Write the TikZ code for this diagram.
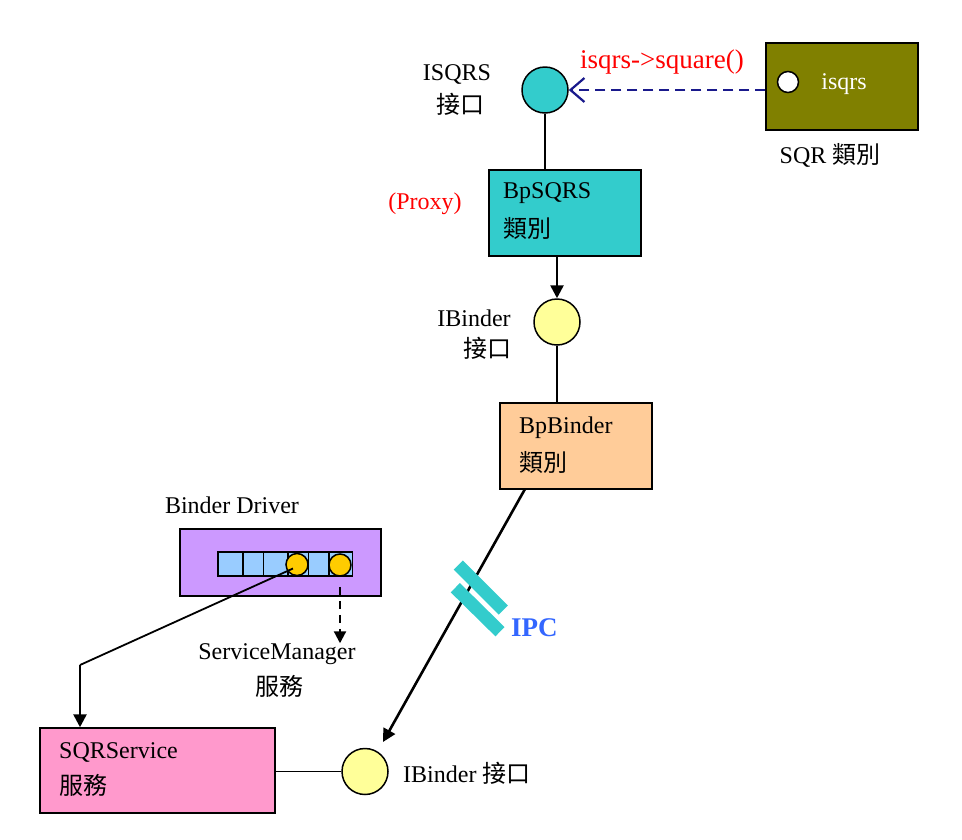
\documentclass[tikz,border=0pt]{standalone}
\usepackage{fontspec}
\setmainfont{Liberation Serif}
\newfontfamily\cjk{Noto Sans CJK TC}
\usetikzlibrary{arrows.meta}
\definecolor{tealc}{HTML}{33CCCC}
\definecolor{olivec}{HTML}{808000}
\definecolor{yellowc}{HTML}{FFFF99}
\definecolor{peachc}{HTML}{FFCC99}
\definecolor{purplec}{HTML}{CC99FF}
\definecolor{cellc}{HTML}{99CCFF}
\definecolor{goldc}{HTML}{FFCC00}
\definecolor{pinkc}{HTML}{FF99CC}
\definecolor{ipcc}{HTML}{3366FF}
\definecolor{navyc}{HTML}{1A1A8C}
\begin{document}
\begin{tikzpicture}[x=1pt,y=-1pt,
  font=\fontsize{24}{28}\selectfont,
  box/.style={draw,line width=1.5pt,inner sep=0pt},
  iface/.style={draw,circle,line width=1.5pt,minimum size=46pt,inner sep=0pt},
  dot/.style={draw,circle,line width=1.5pt,minimum size=22pt,inner sep=0pt,fill=goldc},
  lbl/.style={inner sep=0pt},
  conn/.style={line width=1.5pt},
  arr/.style={line width=2.6pt,-{Triangle[length=13pt,width=13pt]}},
  ipcbar/.style={line width=13pt,tealc}]
\useasboundingbox (0,0) rectangle (962,839);

% nodes
\node[iface,fill=tealc] (isqrs) at (545,90) {};
\node[box,fill=olivec,minimum width=152pt,minimum height=87pt] (sqr) at (842,86.5) {};
\node[draw,circle,line width=1.5pt,fill=white,minimum size=21pt,inner sep=0pt] (sqrdot) at (788,82) {};
\node[box,fill=tealc,minimum width=152pt,minimum height=86pt] (bpsqrs) at (565,213) {};
\node[iface,fill=yellowc] (ib1) at (557,322) {};
\node[box,fill=peachc,minimum width=152pt,minimum height=86pt] (bpbinder) at (576,446) {};
\node[box,fill=purplec,minimum width=201pt,minimum height=67pt] (driver) at (280.5,562.5) {};
\node[box,fill=pinkc,minimum width=235pt,minimum height=85pt] (sqrservice) at (157.5,770.5) {};
\node[iface,fill=yellowc] (ib2) at (365,771.5) {};

% cells in driver
\foreach \a/\b in {218/243,243/263.5,263.5/288,288/308.5,308.5/329,329/352.5}
  \draw[line width=1.5pt,fill=cellc] (\a,552) rectangle (\b,576);
\node[dot] (c1) at (297,564.5) {};
\node[dot] (c2) at (340,565) {};

% texts
\node[lbl] (t1) at (457,74) {ISQRS};
\node[lbl] (t2) at (460,104) {\cjk 接口};
\node[lbl,red,font=\fontsize{27}{30}\selectfont] (t3) at (662,62) {isqrs->square()};
\node[lbl,white] (t4) at (844,84) {isqrs};
\node[lbl] (t5) at (830,155) {SQR {\cjk 類別}};
\node[lbl,red] (t6) at (425,204) {(Proxy)};
\node[lbl,anchor=west] (t7) at (503,193) {BpSQRS};
\node[lbl,anchor=west] (t8) at (503,228) {\cjk 類別};
\node[lbl] (t9) at (474,318) {IBinder};
\node[lbl] (t10) at (487,348) {\cjk 接口};
\node[lbl,anchor=west] (t11) at (519,428) {BpBinder};
\node[lbl,anchor=west] (t12) at (519,462) {\cjk 類別};
\node[lbl] (t13) at (232,505) {Binder Driver};
\node[lbl] (t14) at (277,654) {ServiceManager};
\node[lbl] (t15) at (279,686) {\cjk 服務};
\node[lbl,anchor=west] (t16) at (59,752) {SQRService};
\node[lbl,anchor=west] (t17) at (59,785) {\cjk 服務};
\node[lbl,anchor=west] (t18) at (403,773) {IBinder {\cjk 接口}};
\node[lbl,anchor=west,ipcc,font=\fontsize{27}{30}\selectfont\bfseries] (t19) at (511,628) {IPC};

% connectors
\draw[navyc,line width=2.2pt,dash pattern=on 10pt off 6pt,-{Straight Barb[length=14pt,width=24pt,line width=2.2pt]}]
  (sqr.west |- isqrs) -- (isqrs.east);
\draw[conn] (isqrs.south) -- (isqrs |- bpsqrs.north);
\draw[arr] (ib1 |- bpsqrs.south) -- (ib1.north);
\draw[conn] (ib1.south) -- (ib1 |- bpbinder.north);

\coordinate (ipcstart) at (525,489);
\coordinate (ipcend) at (383,742);
\draw[arr] (ipcstart) -- (ipcend);
\draw[ipcbar] (458.3,565) -- (503.3,610);
\draw[ipcbar] (455.3,587.7) -- (500,631.7);

\coordinate (bend) at (80,665);
\draw[line width=1.8pt] ([shift={(-4pt,-4pt)}]c1.center) -- (bend);
\draw[arr] (bend) -- (bend |- sqrservice.north);
\draw[line width=2.2pt,dash pattern=on 8pt off 6pt,-{Triangle[length=12pt,width=12pt]}]
  ([yshift=-10pt]c2.south) -- (c2 |- t14.north);
\draw[conn] (sqrservice.east |- ib2) -- (ib2.west);
\end{tikzpicture}
\end{document}
